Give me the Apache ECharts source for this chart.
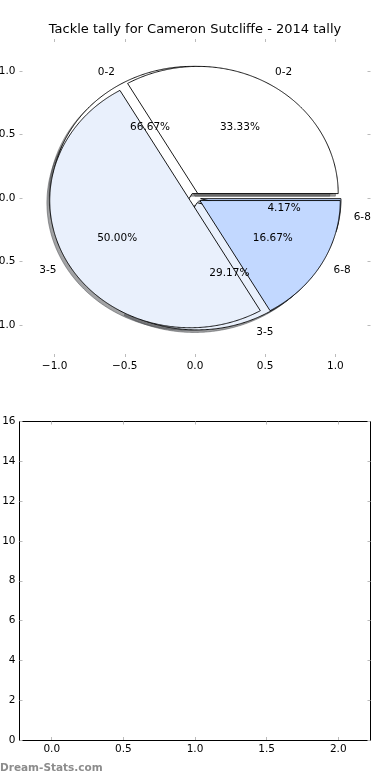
<!DOCTYPE html>
<html><head><meta charset="utf-8">
<script src="https://cdn.jsdelivr.net/npm/echarts@6/dist/echarts.min.js"></script>
<style>html,body{margin:0;padding:0;background:#fff}#c{width:390px;height:780px}</style>
</head><body><div id="c"></div>
<script>
const titleText = 'Tackle tally for Cameron Sutcliffe - 2014 tally';
const watermark = 'Dream-Stats.com';
const categories = ['0-2', '3-5', '6-8'];
const tallyUnder = [16, 7, 1];
const tallyOver = [8, 12, 4];
const sliceColors = ['#ffffff', '#e9f0fc', '#c2d8ff'];
const pieTicks = [-1, -0.5, 0, 0.5, 1];
const lowerXTicks = [0, 0.5, 1, 1.5, 2];
const lowerYMin = 0, lowerYMax = 16, lowerYStep = 2;

const FONT = '"DejaVu Sans", "Liberation Sans", sans-serif';
const explode = 0.04;
const shadowOff = -0.02;

function buildWedges(values, pie) {
  const total = values.reduce((a, b) => a + b, 0);
  let t1 = 0;
  return values.map((v, i) => {
    const frac = v / total;
    const t2 = t1 + frac;
    const tm = Math.PI * (t1 + t2);
    const w = { pie, i, t1, t2, tm, frac, ox: explode * Math.cos(tm), oy: explode * Math.sin(tm) };
    t1 = t2;
    return w;
  });
}
const wedges = buildWedges(tallyUnder, 0).concat(buildWedges(tallyOver, 1));

function wedgePts(api, w, dx, dy) {
  const cx = w.ox + dx, cy = w.oy + dy;
  const pts = [api.coord([cx, cy])];
  const a1 = 2 * Math.PI * w.t1, a2 = 2 * Math.PI * w.t2;
  const n = Math.max(2, Math.ceil((a2 - a1) / (Math.PI / 360)));
  for (let k = 0; k <= n; k++) {
    const a = a1 + (a2 - a1) * k / n;
    pts.push(api.coord([cx + Math.cos(a), cy + Math.sin(a)]));
  }
  return pts;
}
function shadowColor(hex) {
  const r = parseInt(hex.slice(1, 3), 16), g = parseInt(hex.slice(3, 5), 16), b = parseInt(hex.slice(5, 7), 16);
  return 'rgba(' + Math.round(r * 0.3) + ',' + Math.round(g * 0.3) + ',' + Math.round(b * 0.3) + ',0.5)';
}
const labelItems = [];
wedges.forEach(w => {
  const lx = w.ox + 1.1 * Math.cos(w.tm), ly = w.oy + 1.1 * Math.sin(w.tm);
  labelItems.push({ x: lx, y: ly, text: categories[w.i], align: lx > 0 ? 'left' : 'right' });
  labelItems.push({ x: w.ox + 0.6 * Math.cos(w.tm), y: w.oy + 0.6 * Math.sin(w.tm), text: (100 * w.frac).toFixed(2) + '%', align: 'center' });
});

const tickStyle = { show: true, inside: true, length: 3, lineStyle: { color: '#bbbbbb', width: 1 } };
const lblStyle = { color: '#000', fontSize: 10.5, fontFamily: FONT };
const fmt1 = v => (v < 0 ? '\u2212' : '') + Math.abs(v).toFixed(1);

function xAx(grid, pos, min, max, ticks, showLabel, line) {
  return {
    type: 'value', gridIndex: grid, position: pos, min, max,
    axisLine: { show: line, onZero: false, lineStyle: { color: '#000', width: 1 } },
    axisTick: Object.assign({ customValues: ticks }, tickStyle),
    axisLabel: Object.assign({ show: showLabel, customValues: ticks, formatter: fmt1, margin: 4 }, lblStyle),
    splitLine: { show: false }
  };
}
function yAx(grid, pos, min, max, ticks, showLabel, line, f) {
  return {
    type: 'value', gridIndex: grid, position: pos, min, max,
    axisLine: { show: line, onZero: false, lineStyle: { color: '#000', width: 1 } },
    axisTick: Object.assign({ customValues: ticks }, tickStyle),
    axisLabel: Object.assign({ show: showLabel, customValues: ticks, formatter: f, margin: 4 }, lblStyle),
    splitLine: { show: false }
  };
}
const lowerYTicks = [];
for (let v = lowerYMin; v <= lowerYMax; v += lowerYStep) lowerYTicks.push(v);

const chart = echarts.init(document.getElementById('c'), null, { renderer: 'canvas' });
chart.setOption({
  animation: false,
  backgroundColor: '#fff',
  title: { text: titleText, left: 'center', top: 23, padding: 0,
    textStyle: { fontSize: 13, fontWeight: 'normal', color: '#000', fontFamily: FONT } },
  graphic: [{ type: 'text', left: 0, top: 763, style: { text: watermark, fill: '#8c8c8c', font: 'bold 10.5px ' + FONT } }],
  grid: [
    { left: 19.5, top: 39, width: 351, height: 318, containLabel: false, outerBoundsMode: 'none' },
    { left: 19.5, top: 421.5, width: 351, height: 318.5, containLabel: false, outerBoundsMode: 'none' }
  ],
  xAxis: [
    xAx(0, 'bottom', -1.25, 1.25, pieTicks, true, false),
    xAx(0, 'top', -1.25, 1.25, pieTicks, false, false),
    xAx(1, 'bottom', -0.225, 2.225, lowerXTicks, true, true),
    xAx(1, 'top', -0.225, 2.225, lowerXTicks, false, true)
  ],
  yAxis: [
    yAx(0, 'left', -1.25, 1.25, pieTicks, true, false, fmt1),
    yAx(0, 'right', -1.25, 1.25, pieTicks, false, false, fmt1),
    yAx(1, 'left', lowerYMin, lowerYMax, lowerYTicks, true, true, v => String(v)),
    yAx(1, 'right', lowerYMin, lowerYMax, lowerYTicks, false, true, v => String(v))
  ],
  series: [
    {
      type: 'custom', name: 'shadow', xAxisIndex: 0, yAxisIndex: 0, z: 1, silent: true,
      data: wedges.map((w, k) => [0, 0, k]), encode: { x: 0, y: 1 },
      renderItem: (params, api) => {
        const w = wedges[api.value(2)];
        const c = shadowColor(sliceColors[w.i]);
        return { type: 'polygon', shape: { points: wedgePts(api, w, shadowOff, shadowOff) },
          style: { fill: c, stroke: c, lineWidth: 1 } };
      }
    },
    {
      type: 'custom', name: 'wedges', xAxisIndex: 0, yAxisIndex: 0, z: 2, silent: true,
      data: wedges.map((w, k) => [0, 0, k]), encode: { x: 0, y: 1 },
      renderItem: (params, api) => {
        const w = wedges[api.value(2)];
        return { type: 'polygon', shape: { points: wedgePts(api, w, 0, 0) },
          style: { fill: sliceColors[w.i], stroke: '#000', lineWidth: 0.9, lineJoin: 'miter' } };
      }
    },
    {
      type: 'custom', name: 'labels', xAxisIndex: 0, yAxisIndex: 0, z: 3, silent: true,
      data: labelItems.map((l, k) => [l.x, l.y, k]), encode: { x: 0, y: 1 },
      renderItem: (params, api) => {
        const l = labelItems[api.value(2)];
        const p = api.coord([l.x, l.y]);
        return { type: 'text', x: p[0], y: p[1],
          style: { text: l.text, fill: '#000', font: '10.5px ' + FONT, align: l.align, verticalAlign: 'middle' } };
      }
    },
    { type: 'scatter', xAxisIndex: 2, yAxisIndex: 2, data: [] }
  ]
});
</script></body></html>
